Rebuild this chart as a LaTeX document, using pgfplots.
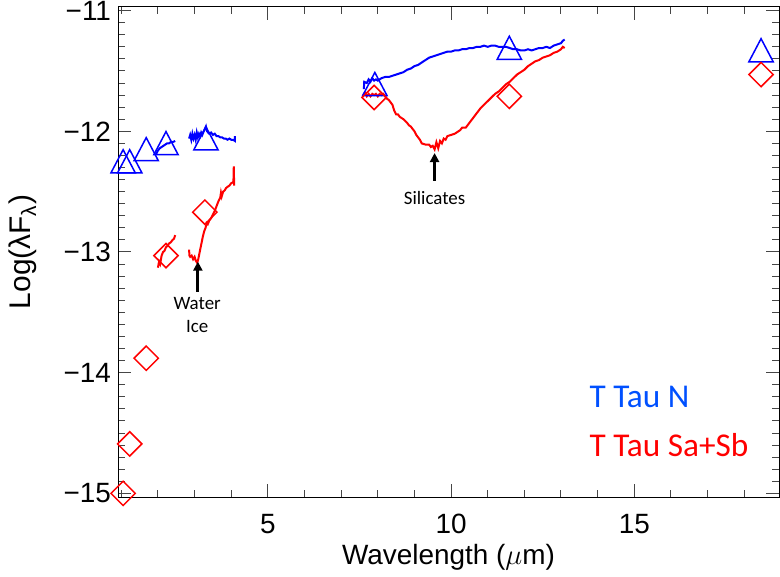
\documentclass[border=0pt]{standalone}
\usepackage{fontspec}
\setmainfont{Liberation Sans}
\newfontfamily\calibri{Carlito}
\usepackage{pgfplots}
\pgfplotsset{compat=1.18}
\usetikzlibrary{arrows.meta}
\definecolor{sedblue}{RGB}{0,0,255}
\definecolor{sedred}{RGB}{255,0,0}
\definecolor{legblue}{RGB}{0,80,255}
\definecolor{tickgray}{RGB}{70,70,70}
\begin{document}
\begin{tikzpicture}
\path[use as bounding box] (-59bp,-40bp) rectangle (331bp,248.5bp);
\begin{axis}[
  at={(0,0)}, anchor=south west,
  scale only axis, width=330.5bp, height=245bp,
  xmin=0.91, xmax=18.95, ymin=-15.03, ymax=-10.97,
  xtick={5,10,15}, xticklabels={5,10,15},
  minor xtick={1,2,3,4,6,7,8,9,11,12,13,14,16,17,18},
  ytick={-15,-14,-13,-12,-11}, yticklabels={−15,−14,−13,−12,−11},
  minor y tick num=9,
  tick align=inside, major tick length=6.5bp, minor tick length=3.5bp,
  every tick/.style={tickgray, line width=0.5bp},
  axis line style={black, line width=0.5bp},
  font=\fontsize{14}{16}\selectfont,
  xticklabel style={yshift=-5bp},
  xlabel={Wavelength ($\mu$m)},
  ylabel={Log(λF\textsubscript{λ})},
  every axis x label/.style={at={(axis description cs:0.5,-0.1224)}, anchor=center},
  every axis y label/.style={at={(axis description cs:-0.1437,0.5)}, rotate=90, anchor=center, font=\fontsize{15}{17}\selectfont},
]
% ---- T Tau N spectra (blue)
\addplot[sedblue, line width=1bp] coordinates {
(1.95,-12.19)(2.0,-12.16)(2.05,-12.14)(2.1,-12.13)(2.15,-12.12)(2.2,-12.11)(2.25,-12.10)(2.3,-12.10)(2.35,-12.09)(2.4,-12.09)(2.47,-12.08)};
\addplot[sedblue, line width=1bp] coordinates {
(2.85,-12.06)(2.88,-12.03)(2.91,-12.07)(2.94,-12.02)(2.97,-12.06)(3.0,-12.03)(3.03,-12.07)(3.06,-12.01)(3.09,-12.05)(3.12,-12.02)(3.15,-12.04)(3.18,-12.01)(3.21,-12.03)(3.25,-12.00)(3.28,-11.98)(3.31,-11.96)(3.34,-12.00)(3.37,-12.01)(3.4,-12.02)(3.45,-12.01)(3.5,-12.03)(3.55,-12.02)(3.6,-12.04)(3.65,-12.04)(3.7,-12.05)(3.75,-12.05)(3.8,-12.06)(3.85,-12.06)(3.9,-12.07)(3.95,-12.06)(4.0,-12.07)(4.05,-12.07)(4.1,-12.08)(4.1,-12.04)};
\addplot[sedblue, line width=1bp] coordinates {
(7.62,-11.65)(7.63,-11.59)(7.7,-11.60)(7.75,-11.57)(7.8,-11.59)(7.85,-11.56)(7.9,-11.58)(7.95,-11.57)(8.0,-11.58)(8.1,-11.56)(8.2,-11.55)(8.3,-11.55)(8.4,-11.54)(8.5,-11.53)(8.6,-11.52)(8.7,-11.51)(8.8,-11.49)(8.9,-11.48)(9.0,-11.46)(9.1,-11.45)(9.2,-11.43)(9.3,-11.41)(9.4,-11.39)(9.5,-11.38)(9.6,-11.37)(9.7,-11.36)(9.8,-11.35)(9.9,-11.34)(10.0,-11.34)(10.1,-11.33)(10.2,-11.33)(10.3,-11.32)(10.4,-11.32)(10.5,-11.31)(10.6,-11.31)(10.7,-11.30)(10.8,-11.30)(10.9,-11.29)(11.0,-11.30)(11.1,-11.29)(11.2,-11.29)(11.3,-11.30)(11.4,-11.30)(11.5,-11.30)(11.6,-11.31)(11.7,-11.32)(11.8,-11.32)(11.9,-11.33)(12.0,-11.33)(12.1,-11.32)(12.2,-11.33)(12.3,-11.32)(12.4,-11.31)(12.5,-11.31)(12.6,-11.30)(12.7,-11.31)(12.8,-11.29)(12.9,-11.28)(13.0,-11.27)(13.05,-11.25)(13.1,-11.24)};
% ---- T Tau Sa+Sb spectra (red)
\addplot[sedred, line width=1bp] coordinates {
(2.0,-13.13)(2.03,-13.08)(2.06,-13.10)(2.1,-13.03)(2.14,-13.00)(2.18,-12.99)(2.22,-12.96)(2.26,-12.95)(2.3,-12.93)(2.35,-12.92)(2.4,-12.90)(2.44,-12.89)(2.47,-12.86)};
\addplot[sedred, line width=1bp] coordinates {
(2.85,-12.98)(2.86,-13.03)(2.88,-13.04)(2.92,-13.03)(2.96,-13.06)(3.0,-13.04)(3.03,-13.07)(3.07,-13.09)(3.1,-13.06)(3.14,-13.00)(3.18,-12.94)(3.22,-12.88)(3.26,-12.83)(3.3,-12.80)(3.33,-12.76)(3.36,-12.77)(3.4,-12.74)(3.45,-12.72)(3.5,-12.69)(3.55,-12.66)(3.6,-12.62)(3.65,-12.58)(3.7,-12.55)(3.72,-12.51)(3.74,-12.54)(3.78,-12.50)(3.82,-12.49)(3.86,-12.47)(3.9,-12.46)(3.95,-12.45)(4.0,-12.43)(4.06,-12.42)(4.07,-12.29)(4.08,-12.45)};
\addplot[sedred, line width=1bp] coordinates {
(7.6,-11.70)(7.65,-11.68)(7.7,-11.71)(7.75,-11.69)(7.8,-11.71)(7.85,-11.69)(7.9,-11.70)(7.95,-11.69)(8.0,-11.71)(8.05,-11.69)(8.1,-11.70)(8.15,-11.69)(8.2,-11.71)(8.25,-11.73)(8.3,-11.74)(8.4,-11.78)(8.45,-11.83)(8.5,-11.86)(8.55,-11.86)(8.6,-11.88)(8.7,-11.90)(8.8,-11.93)(8.85,-11.95)(8.9,-11.96)(9.0,-12.00)(9.05,-12.03)(9.1,-12.05)(9.15,-12.07)(9.2,-12.10)(9.3,-12.11)(9.4,-12.11)(9.45,-12.13)(9.5,-12.12)(9.55,-12.15)(9.6,-12.09)(9.65,-12.14)(9.7,-12.08)(9.75,-12.10)(9.8,-12.06)(9.85,-12.07)(9.9,-12.04)(10.0,-12.03)(10.1,-12.02)(10.2,-12.00)(10.25,-11.99)(10.3,-11.97)(10.4,-11.97)(10.5,-11.93)(10.6,-11.89)(10.7,-11.85)(10.8,-11.81)(10.9,-11.78)(11.0,-11.75)(11.1,-11.72)(11.2,-11.69)(11.3,-11.67)(11.4,-11.64)(11.5,-11.61)(11.6,-11.59)(11.7,-11.56)(11.8,-11.53)(11.9,-11.51)(12.0,-11.49)(12.1,-11.46)(12.2,-11.44)(12.3,-11.42)(12.4,-11.41)(12.5,-11.39)(12.6,-11.38)(12.7,-11.37)(12.8,-11.35)(12.9,-11.34)(13.0,-11.32)(13.05,-11.30)(13.1,-11.31)};
% ---- photometry
\addplot[only marks, mark=triangle, mark size=7.7bp, mark options={sedblue, line width=0.75bp, xscale=0.91}] coordinates {
(1.05,-12.28)(1.23,-12.28)(1.68,-12.18)(2.22,-12.13)(3.31,-12.09)(7.92,-11.64)(11.59,-11.34)(18.46,-11.36)};
\addplot[only marks, mark=square, mark size=4.3bp, mark options={sedred, line width=0.75bp, rotate=45}] coordinates {
(1.05,-15.00)(1.23,-14.59)(1.68,-13.88)(2.22,-13.03)(3.28,-12.67)(7.90,-11.72)(11.59,-11.71)(18.46,-11.53)};
% ---- annotations
\draw[black, line width=1.5bp, -{Triangle[width=4.5bp,length=4.5bp]}] (axis cs:9.55,-12.41) -- (axis cs:9.55,-12.18);
\draw[black, line width=1.5bp, -{Triangle[width=4.5bp,length=4.5bp]}] (axis cs:3.09,-13.33) -- (axis cs:3.09,-13.08);
\node[font=\calibri\fontsize{9.5}{11}\selectfont, anchor=center] at (axis cs:9.55,-12.55) {Silicates};
\node[font=\calibri\fontsize{9.5}{11}\selectfont, anchor=center] at (axis cs:3.07,-13.43) {Water};
\node[font=\calibri\fontsize{9.5}{11}\selectfont, anchor=center] at (axis cs:3.07,-13.62) {Ice};
\node[font=\calibri\fontsize{16.7}{18}\selectfont, text=legblue, anchor=west, inner sep=0pt] at (axis cs:13.77,-14.2) {T Tau N};
\node[font=\calibri\fontsize{16.7}{18}\selectfont, text=sedred, anchor=west, inner sep=0pt] at (axis cs:13.77,-14.6) {T Tau Sa+Sb};
\end{axis}
\end{tikzpicture}
\end{document}
